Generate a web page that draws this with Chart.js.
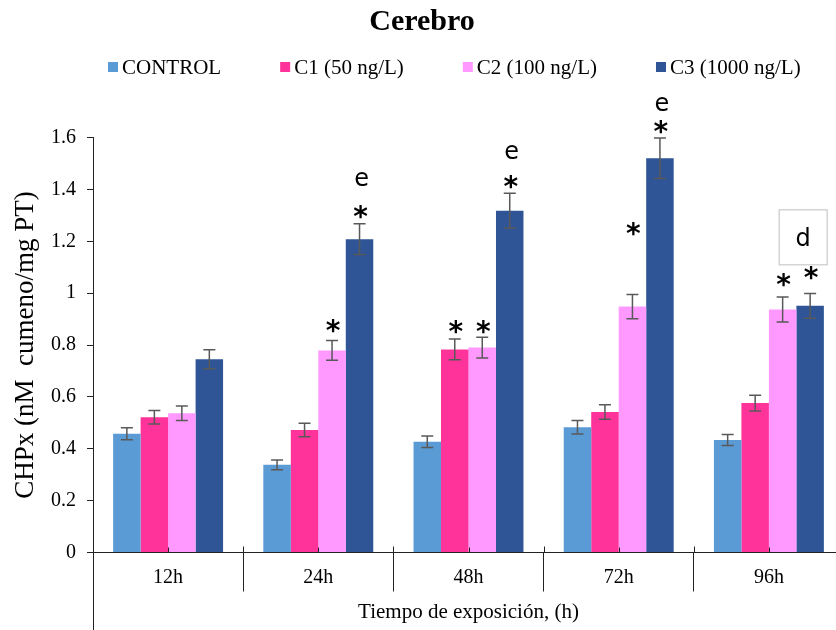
<!DOCTYPE html>
<html>
<head>
<meta charset="utf-8">
<script src="https://cdn.jsdelivr.net/npm/chart.js@4.4.1/dist/chart.umd.min.js"></script>
<style>
  html, body { margin: 0; padding: 0; background: #fff; overflow: hidden; }
  #wrap { width: 850px; height: 630px; }
</style>
</head>
<body>
<div id="wrap"><canvas id="myChart" width="850" height="630"></canvas></div>
<script>
const categories = ['12h', '24h', '48h', '72h', '96h'];
const seriesNames = ['CONTROL', 'C1 (50 ng/L)', 'C2 (100 ng/L)', 'C3 (1000 ng/L)'];
const colors = ['#5B9BD5', '#FF3399', '#FF99FF', '#2F5597'];

const control = [0.458, 0.338, 0.427, 0.483, 0.434];
const c1 = [0.521, 0.472, 0.783, 0.542, 0.576];
const c2 = [0.537, 0.779, 0.790, 0.948, 0.937];
const c3 = [0.745, 1.208, 1.318, 1.520, 0.951];

const controlErr = [0.023, 0.019, 0.022, 0.026, 0.021];
const c1Err = [0.026, 0.026, 0.040, 0.028, 0.030];
const c2Err = [0.028, 0.038, 0.040, 0.047, 0.048];
const c3Err = [0.037, 0.059, 0.067, 0.078, 0.048];

// height (axis units) of the "*" marks, null = none
const controlStar = [null, null, null, null, null];
const c1Star = [null, null, 0.870, null, null];
const c2Star = [null, 0.875, 0.870, 1.247, 1.050];
const c3Star = [null, 1.313, 1.429, 1.642, 1.079];
// letters over C3
const c3Letter = [null, 'e', 'e', 'e', 'd'];
const c3LetterY = [null, 1.436, 1.541, 1.725, 1.217];

const yMax = 1.6;
const yStep = 0.2;

const serif = 'Liberation Serif, Times New Roman, serif';
const sans = 'DejaVu Sans, Arial, sans-serif';

const values = [control, c1, c2, c3];
const errs = [controlErr, c1Err, c2Err, c3Err];
const stars = [controlStar, c1Star, c2Star, c3Star];

const marks = {
  id: 'marks',
  afterDatasetsDraw(chart) {
    const ctx = chart.ctx;
    const y = chart.scales.y;
    ctx.save();
    ctx.strokeStyle = '#595959';
    ctx.lineWidth = 1.5;
    chart.data.datasets.forEach((ds, i) => {
      chart.getDatasetMeta(i).data.forEach((bar, j) => {
        const hi = y.getPixelForValue(ds.data[j] + errs[i][j]);
        const lo = y.getPixelForValue(ds.data[j] - errs[i][j]);
        ctx.beginPath();
        ctx.moveTo(bar.x, hi); ctx.lineTo(bar.x, lo);
        ctx.moveTo(bar.x - 6, hi); ctx.lineTo(bar.x + 6, hi);
        ctx.moveTo(bar.x - 6, lo); ctx.lineTo(bar.x + 6, lo);
        ctx.stroke();
      });
    });
    ctx.restore();
  },
  afterDraw(chart) {
    const ctx = chart.ctx;
    const y = chart.scales.y;
    const x = chart.scales.x;
    const area = chart.chartArea;
    ctx.save();

    // stars and letters
    ctx.fillStyle = '#000';
    ctx.textAlign = 'center';
    ctx.textBaseline = 'alphabetic';
    stars.forEach((s, i) => {
      const meta = chart.getDatasetMeta(i);
      s.forEach((v, j) => {
        if (v == null) return;
        ctx.font = 'bold 28px ' + sans;
        ctx.fillText('*', meta.data[j].x + 1, y.getPixelForValue(v) + 0.5 * 28);
      });
    });
    const m3 = chart.getDatasetMeta(3);
    c3Letter.forEach((t, j) => {
      if (!t) return;
      const cx = m3.data[j].x;
      const cy = y.getPixelForValue(c3LetterY[j]);
      ctx.font = '24px ' + sans;
      if (t === 'd') {
        ctx.strokeStyle = '#bfbfbf';
        ctx.lineWidth = 1;
        ctx.fillStyle = '#fff';
        ctx.fillRect(cx - 31, cy - 27, 48, 55);
        ctx.strokeRect(cx - 31, cy - 27, 48, 55);
        ctx.fillStyle = '#000';
        ctx.fillText(t, cx - 7, cy + 9);
      } else {
        ctx.fillText(t, cx + 2, cy + 6);
      }
    });

    // little inner ticks on the category axis and left line going down
    ctx.strokeStyle = '#222';
    ctx.lineWidth = 1;
    ctx.beginPath();
    categories.forEach((c, j) => {
      const px = Math.round(x.getPixelForValue(j)) + 0.5;
      const edge = Math.round(x.getPixelForValue(j) + x.width / categories.length / 2) + 0.5;
      ctx.moveTo(px, area.bottom); ctx.lineTo(px, area.bottom - 5);
      ctx.moveTo(edge, area.bottom); ctx.lineTo(edge, area.bottom - 6);
    });
    const lx = Math.round(area.left) + 0.5;
    ctx.moveTo(lx, area.bottom); ctx.lineTo(lx, chart.height);
    ctx.stroke();

    // legend
    let lxp = 108;
    const ly = 67;
    ctx.font = '21px ' + serif;
    ctx.textAlign = 'left';
    ctx.textBaseline = 'middle';
    seriesNames.forEach((name, i) => {
      ctx.fillStyle = colors[i];
      ctx.fillRect(lxp, ly - 5, 10, 10);
      ctx.fillStyle = '#000';
      ctx.fillText(name, lxp + 14, ly + 1);
      lxp += 14 + ctx.measureText(name).width + 59;
    });
    ctx.restore();
  }
};

const yTicks = [];
for (let t = 0; t <= yMax + 1e-9; t += yStep) yTicks.push(+t.toFixed(1));

new Chart(document.getElementById('myChart'), {
  type: 'bar',
  data: {
    labels: categories,
    datasets: values.map((v, i) => ({
      label: seriesNames[i],
      data: v,
      backgroundColor: colors[i],
      borderWidth: 0,
      categoryPercentage: 0.732,
      barPercentage: 1
    }))
  },
  options: {
    responsive: false,
    animation: false,
    layout: { padding: { right: 6 } },
    plugins: {
      legend: { display: false },
      tooltip: { enabled: false },
      title: {
        display: true,
        text: 'Cerebro',
        color: '#000',
        font: { family: serif, size: 30, weight: 'bold' },
        padding: { top: 4, bottom: 97.5 }
      }
    },
    scales: {
      x: {
        grid: { display: true, drawOnChartArea: false, offset: true, tickLength: 39, color: '#222' },
        border: { color: '#222', width: 1 },
        ticks: { color: '#000', padding: -26, font: { family: serif, size: 20 } },
        title: {
          display: true,
          text: 'Tiempo de exposición, (h)',
          color: '#000',
          font: { family: serif, size: 21 },
          padding: { top: 0, bottom: 5 }
        },
        afterFit(scale) { scale.height = 77.5; }
      },
      y: {
        min: 0,
        max: yMax,
        grid: { display: true, drawOnChartArea: false, tickLength: 6, color: '#222' },
        border: { color: '#222', width: 1 },
        afterBuildTicks(scale) { scale.ticks = yTicks.map(v => ({ value: v })); },
        ticks: {
          color: '#000',
          padding: 11,
          font: { family: serif, size: 20 },
          callback: v => String(+(+v).toFixed(1))
        },
        title: {
          display: true,
          text: 'CHPx (nM  cumeno/mg PT)',
          color: '#000',
          font: { family: serif, size: 27 },
          padding: { top: 10, bottom: 0 }
        },
        afterFit(scale) { scale.width = 93; }
      }
    }
  },
  plugins: [marks]
});
</script>
</body>
</html>
